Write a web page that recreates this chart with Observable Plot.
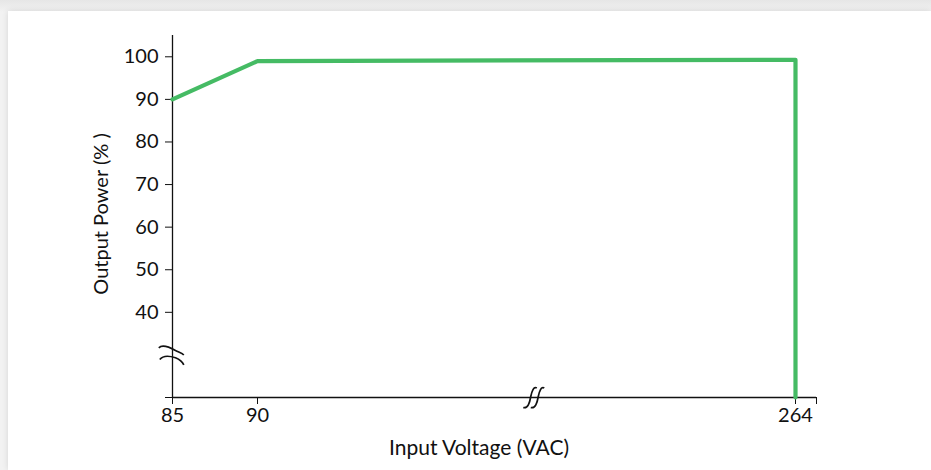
<!DOCTYPE html>
<html>
<head>
<meta charset="utf-8">
<script src="https://cdn.jsdelivr.net/npm/d3@7"></script>
<script src="https://cdn.jsdelivr.net/npm/@observablehq/plot@0.6"></script>
<style>
  html, body { margin: 0; padding: 0; }
  body { width: 931px; height: 470px; background: linear-gradient(#e6e6e6, #f2f2f2 12px); position: relative; overflow: hidden; font-family: Lato, sans-serif; }
  #card { position: absolute; left: 8px; top: 11px; right: 0; bottom: 0; background: #fff; box-shadow: 0 0 6px rgba(0,0,0,0.12); }
  #chart { position: absolute; left: 0; top: 0; }
</style>
</head>
<body>
<div id="card"></div>
<div id="chart"></div>
<script>
// Data
const voltage = [85, 90, 264, 264];
const power = [90, 99, 99.3, 0];
const xTicks = [85, 90, 264];
const yTicks = [40, 50, 60, 70, 80, 90, 100];
const xTitle = "Input Voltage (VAC)";
const yTitle = "Output Power (% )";
const xBreakAt = 180;   // broken x-axis marker position (VAC)
const yBreakAt = 30;    // broken y-axis marker position (%)

const data = voltage.map((v, i) => ({v, p: power[i]}));

// broken (piecewise) x axis: 85–90 stretched, 90–264 compressed
const xBreak = d3.scaleLinear().domain([85, 90, 264, 270]).range([0, 85, 623, 644]);

// axis-break glyphs as custom symbols
const yBreakSymbol = {
  draw(c) {
    c.moveTo(-13.7, -7.1);
    c.bezierCurveTo(-11, -9.9, -5, -8.9, 3, -4.4);
    c.bezierCurveTo(7, -2.4, 10, -1.4, 11.3, 0.1);
    c.moveTo(-12.7, 4.6);
    c.bezierCurveTo(-10, 1.1, -4, 0.6, 3, 2.9);
    c.bezierCurveTo(7, 4.6, 10, 7.1, 11.3, 9.9);
  }
};
const xBreakSymbol = {
  draw(c) {
    for (const dx of [-4, 3.5]) {
      c.moveTo(5 + dx, -9.5);
      c.bezierCurveTo(2 + dx, -11.5, 0 + dx, -6, -1 + dx, -1);
      c.bezierCurveTo(-2 + dx, 5, -4 + dx, 11.5, -8.5 + dx, 10);
    }
  }
};

const chart = Plot.plot({
  width: 931,
  height: 470,
  marginTop: 35,
  marginBottom: 73,
  marginLeft: 172,
  marginRight: 146,
  style: {fontFamily: "Lato, sans-serif", fontSize: "20px", color: "#111", background: "transparent"},
  x: {transform: xBreak, domain: [0, 644], range: [172, 816]},
  y: {domain: [20, 105], range: [397, 35], clamp: true},
  marks: [
    Plot.ruleX([85], {y1: 20, y2: 105, stroke: "#111", strokeWidth: 1.3}),
    Plot.ruleY([20], {x1: 85, x2: 270, stroke: "#111", strokeWidth: 1.3}),
    Plot.axisY([...yTicks, 20], {tickSize: 7, tickPadding: 7, fontSize: 20, stroke: "#111", fill: "#111", tickFormat: d => d === 20 ? "" : d, label: null}),
    Plot.axisX([...xTicks, 270], {tickSize: 7, tickPadding: 3, fontSize: 20, stroke: "#111", fill: "#111", tickFormat: d => d === 270 ? "" : d, label: null}),
    Plot.line(data, {x: "v", y: "p", stroke: "#45bb64", strokeWidth: 4.2}),
    Plot.dot([yBreakAt], {x: () => 85, y: d => d, symbol: yBreakSymbol, fill: "none", stroke: "#111", strokeWidth: 1.7}),
    Plot.dot([xBreakAt], {x: d => d, y: () => 20, symbol: xBreakSymbol, fill: "none", stroke: "#111", strokeWidth: 1.7}),
    Plot.text([xTitle], {frameAnchor: "bottom", dy: 51, text: d => d, fontSize: 21, fill: "#111", lineAnchor: "middle"}),
    Plot.text([yTitle], {frameAnchor: "left", dx: -71, dy: -2.5, rotate: -90, textAnchor: "middle", text: d => d, fontSize: 20, fill: "#111", lineAnchor: "middle"})
  ]
});
document.getElementById("chart").append(chart);
</script>
</body>
</html>
